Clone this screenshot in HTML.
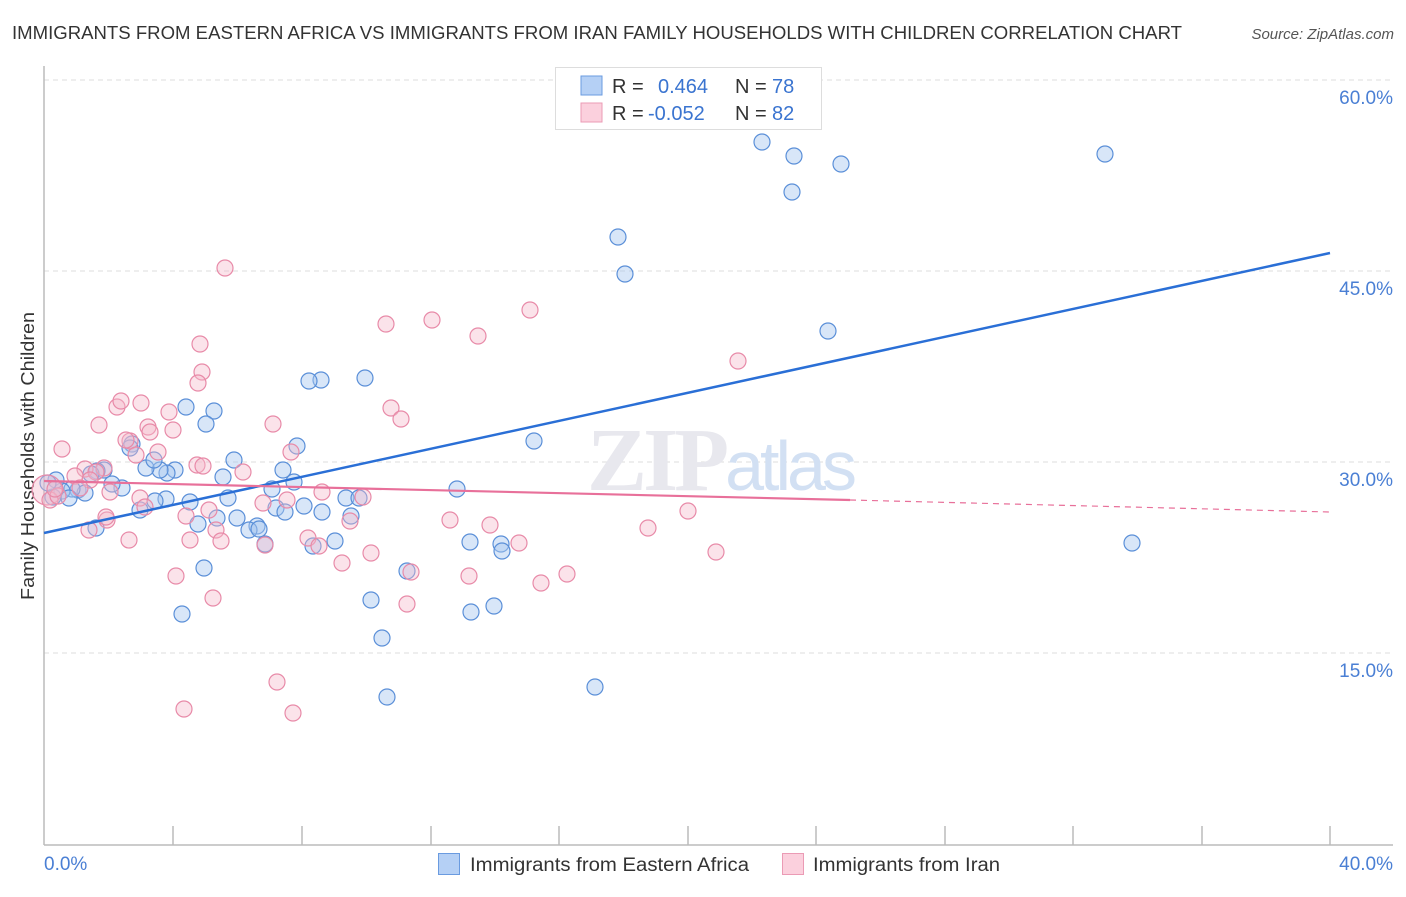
<!DOCTYPE html>
<html><head><meta charset="utf-8"><style>
body{margin:0;background:#fff;font-family:"Liberation Sans",sans-serif;}
</style></head><body>
<svg width="1406" height="892" xmlns="http://www.w3.org/2000/svg" font-family="Liberation Sans, sans-serif">
<rect width="1406" height="892" fill="#fff"/>
<text x="12" y="39" font-size="18" fill="#333" textLength="1170" lengthAdjust="spacingAndGlyphs">IMMIGRANTS FROM EASTERN AFRICA VS IMMIGRANTS FROM IRAN FAMILY HOUSEHOLDS WITH CHILDREN CORRELATION CHART</text>
<text x="1394" y="39" font-size="15" fill="#555" font-style="italic" text-anchor="end">Source: ZipAtlas.com</text>
<g stroke="#ddd" stroke-dasharray="5,4" stroke-width="1">
<line x1="44" y1="80" x2="1393" y2="80"/><line x1="44" y1="271" x2="1393" y2="271"/>
<line x1="44" y1="462" x2="1393" y2="462"/><line x1="44" y1="653" x2="1393" y2="653"/>
</g>
<g stroke="#bbb" stroke-width="1.5">
<line x1="44" y1="66" x2="44" y2="845"/><line x1="44" y1="845" x2="1393" y2="845"/>
<line x1="173" y1="826" x2="173" y2="845"/><line x1="302" y1="826" x2="302" y2="845"/><line x1="431" y1="826" x2="431" y2="845"/><line x1="559" y1="826" x2="559" y2="845"/><line x1="688" y1="826" x2="688" y2="845"/><line x1="816" y1="826" x2="816" y2="845"/><line x1="945" y1="826" x2="945" y2="845"/><line x1="1073" y1="826" x2="1073" y2="845"/><line x1="1202" y1="826" x2="1202" y2="845"/><line x1="1330" y1="826" x2="1330" y2="845"/>
</g>
<g font-size="19" fill="#4a7fd4" text-anchor="end">
<text x="1393" y="104">60.0%</text><text x="1393" y="295">45.0%</text><text x="1393" y="486">30.0%</text><text x="1393" y="677">15.0%</text>
</g>
<text x="44" y="870" font-size="19" fill="#4a7fd4">0.0%</text>
<text x="1393" y="870" font-size="19" fill="#4a7fd4" text-anchor="end">40.0%</text>
<text transform="translate(34,456) rotate(-90)" font-size="18" fill="#333" text-anchor="middle" textLength="288" lengthAdjust="spacingAndGlyphs">Family Households with Children</text>
<text x="720" y="490" font-size="90" fill="#e8e8ee" text-anchor="middle" font-family="Liberation Serif, serif" font-weight="bold" letter-spacing="-4">ZIP<tspan fill="#d2e0f3" font-family="Liberation Sans, sans-serif" font-weight="normal" font-size="70">atlas</tspan></text>
<g fill="#a8c8f0" fill-opacity="0.45" stroke="#5a8fd8" stroke-width="1.2">
<circle cx="762" cy="142" r="8"/><circle cx="794" cy="156" r="8"/><circle cx="792" cy="192" r="8"/><circle cx="841" cy="164" r="8"/><circle cx="1105" cy="154" r="8"/><circle cx="618" cy="237" r="8"/><circle cx="625" cy="274" r="8"/><circle cx="828" cy="331" r="8"/><circle cx="1132" cy="543" r="8"/><circle cx="534" cy="441" r="8"/><circle cx="595" cy="687" r="8"/><circle cx="387" cy="697" r="8"/><circle cx="382" cy="638" r="8"/><circle cx="371" cy="600" r="8"/><circle cx="471" cy="612" r="8"/><circle cx="494" cy="606" r="8"/><circle cx="470" cy="542" r="8"/><circle cx="501" cy="544" r="8"/><circle cx="502" cy="551" r="8"/><circle cx="407" cy="571" r="8"/><circle cx="457" cy="489" r="8"/><circle cx="365" cy="378" r="8"/><circle cx="321" cy="380" r="8"/><circle cx="309" cy="381" r="8"/><circle cx="297" cy="446" r="8"/><circle cx="283" cy="470" r="8"/><circle cx="294" cy="482" r="8"/><circle cx="272" cy="489" r="8"/><circle cx="276" cy="508" r="8"/><circle cx="285" cy="512" r="8"/><circle cx="304" cy="506" r="8"/><circle cx="322" cy="512" r="8"/><circle cx="313" cy="546" r="8"/><circle cx="335" cy="541" r="8"/><circle cx="346" cy="498" r="8"/><circle cx="351" cy="516" r="8"/><circle cx="359" cy="498" r="8"/><circle cx="234" cy="460" r="8"/><circle cx="223" cy="477" r="8"/><circle cx="228" cy="498" r="8"/><circle cx="237" cy="518" r="8"/><circle cx="257" cy="526" r="8"/><circle cx="249" cy="530" r="8"/><circle cx="259" cy="529" r="8"/><circle cx="265" cy="544" r="8"/><circle cx="214" cy="411" r="8"/><circle cx="206" cy="424" r="8"/><circle cx="186" cy="407" r="8"/><circle cx="175" cy="470" r="8"/><circle cx="167" cy="473" r="8"/><circle cx="160" cy="470" r="8"/><circle cx="146" cy="468" r="8"/><circle cx="154" cy="460" r="8"/><circle cx="132" cy="444" r="8"/><circle cx="130" cy="448" r="8"/><circle cx="190" cy="502" r="8"/><circle cx="198" cy="524" r="8"/><circle cx="217" cy="518" r="8"/><circle cx="204" cy="568" r="8"/><circle cx="182" cy="614" r="8"/><circle cx="166" cy="499" r="8"/><circle cx="155" cy="501" r="8"/><circle cx="140" cy="510" r="8"/><circle cx="122" cy="488" r="8"/><circle cx="112" cy="484" r="8"/><circle cx="104" cy="470" r="8"/><circle cx="97" cy="471" r="8"/><circle cx="91" cy="474" r="8"/><circle cx="78" cy="490" r="8"/><circle cx="85" cy="493" r="8"/><circle cx="72" cy="489" r="8"/><circle cx="62" cy="491" r="8"/><circle cx="56" cy="480" r="8"/><circle cx="53" cy="497" r="8"/><circle cx="48" cy="483" r="8"/><circle cx="96" cy="528" r="8"/><circle cx="69" cy="498" r="8"/>
</g>
<g fill="#f5b8cb" fill-opacity="0.4" stroke="#e88aa8" stroke-width="1.2">
<circle cx="47" cy="490" r="15"/>
<circle cx="225" cy="268" r="8"/><circle cx="200" cy="344" r="8"/><circle cx="202" cy="372" r="8"/><circle cx="198" cy="383" r="8"/><circle cx="141" cy="403" r="8"/><circle cx="117" cy="407" r="8"/><circle cx="121" cy="401" r="8"/><circle cx="99" cy="425" r="8"/><circle cx="169" cy="412" r="8"/><circle cx="148" cy="427" r="8"/><circle cx="150" cy="432" r="8"/><circle cx="173" cy="430" r="8"/><circle cx="130" cy="441" r="8"/><circle cx="126" cy="440" r="8"/><circle cx="158" cy="452" r="8"/><circle cx="136" cy="455" r="8"/><circle cx="62" cy="449" r="8"/><circle cx="104" cy="468" r="8"/><circle cx="85" cy="469" r="8"/><circle cx="96" cy="472" r="8"/><circle cx="75" cy="476" r="8"/><circle cx="90" cy="480" r="8"/><circle cx="110" cy="492" r="8"/><circle cx="80" cy="488" r="8"/><circle cx="50" cy="500" r="8"/><circle cx="58" cy="496" r="8"/><circle cx="140" cy="498" r="8"/><circle cx="145" cy="507" r="8"/><circle cx="197" cy="465" r="8"/><circle cx="203" cy="466" r="8"/><circle cx="243" cy="472" r="8"/><circle cx="186" cy="516" r="8"/><circle cx="209" cy="510" r="8"/><circle cx="216" cy="530" r="8"/><circle cx="221" cy="541" r="8"/><circle cx="190" cy="540" r="8"/><circle cx="176" cy="576" r="8"/><circle cx="213" cy="598" r="8"/><circle cx="184" cy="709" r="8"/><circle cx="277" cy="682" r="8"/><circle cx="293" cy="713" r="8"/><circle cx="265" cy="545" r="8"/><circle cx="263" cy="503" r="8"/><circle cx="273" cy="424" r="8"/><circle cx="291" cy="452" r="8"/><circle cx="287" cy="500" r="8"/><circle cx="322" cy="492" r="8"/><circle cx="308" cy="538" r="8"/><circle cx="319" cy="546" r="8"/><circle cx="342" cy="563" r="8"/><circle cx="350" cy="521" r="8"/><circle cx="363" cy="497" r="8"/><circle cx="371" cy="553" r="8"/><circle cx="391" cy="408" r="8"/><circle cx="401" cy="419" r="8"/><circle cx="386" cy="324" r="8"/><circle cx="432" cy="320" r="8"/><circle cx="478" cy="336" r="8"/><circle cx="530" cy="310" r="8"/><circle cx="411" cy="572" r="8"/><circle cx="407" cy="604" r="8"/><circle cx="450" cy="520" r="8"/><circle cx="469" cy="576" r="8"/><circle cx="490" cy="525" r="8"/><circle cx="519" cy="543" r="8"/><circle cx="541" cy="583" r="8"/><circle cx="567" cy="574" r="8"/><circle cx="648" cy="528" r="8"/><circle cx="688" cy="511" r="8"/><circle cx="716" cy="552" r="8"/><circle cx="738" cy="361" r="8"/><circle cx="129" cy="540" r="8"/><circle cx="107" cy="520" r="8"/><circle cx="106" cy="517" r="8"/><circle cx="89" cy="530" r="8"/><circle cx="55" cy="489" r="8"/>
</g>
<line x1="44" y1="533" x2="1330" y2="253" stroke="#2a6fd6" stroke-width="2.5"/>
<line x1="44" y1="481" x2="850" y2="500" stroke="#e8709a" stroke-width="2.2"/>
<line x1="850" y1="500" x2="1330" y2="512" stroke="#e8709a" stroke-width="1.2" stroke-dasharray="6,5"/>
<rect x="555.5" y="67.5" width="266" height="62" fill="#fff" stroke="#ddd"/>
<rect x="581" y="76" width="21" height="19" fill="#b5d0f5" stroke="#6a9be0"/>
<rect x="581" y="103" width="21" height="19" fill="#fbd0dd" stroke="#eb9bb5"/>
<g font-size="20">
<text x="612" y="93" fill="#333">R = </text><text x="658" y="93" fill="#3a74d0">0.464</text><text x="735" y="93" fill="#333">N = </text><text x="772" y="93" fill="#3a74d0">78</text>
<text x="612" y="120" fill="#333">R = </text><text x="648" y="120" fill="#3a74d0">-0.052</text><text x="735" y="120" fill="#333">N = </text><text x="772" y="120" fill="#3a74d0">82</text>
</g>
<rect x="438.5" y="853.5" width="21" height="21" fill="#b5d0f5" stroke="#6a9be0"/>
<text x="470" y="871" font-size="19" fill="#333" textLength="279" lengthAdjust="spacingAndGlyphs">Immigrants from Eastern Africa</text>
<rect x="782.5" y="853.5" width="21" height="21" fill="#fbd0dd" stroke="#eb9bb5"/>
<text x="813" y="871" font-size="19" fill="#333" textLength="187" lengthAdjust="spacingAndGlyphs">Immigrants from Iran</text>
</svg>
</body></html>
